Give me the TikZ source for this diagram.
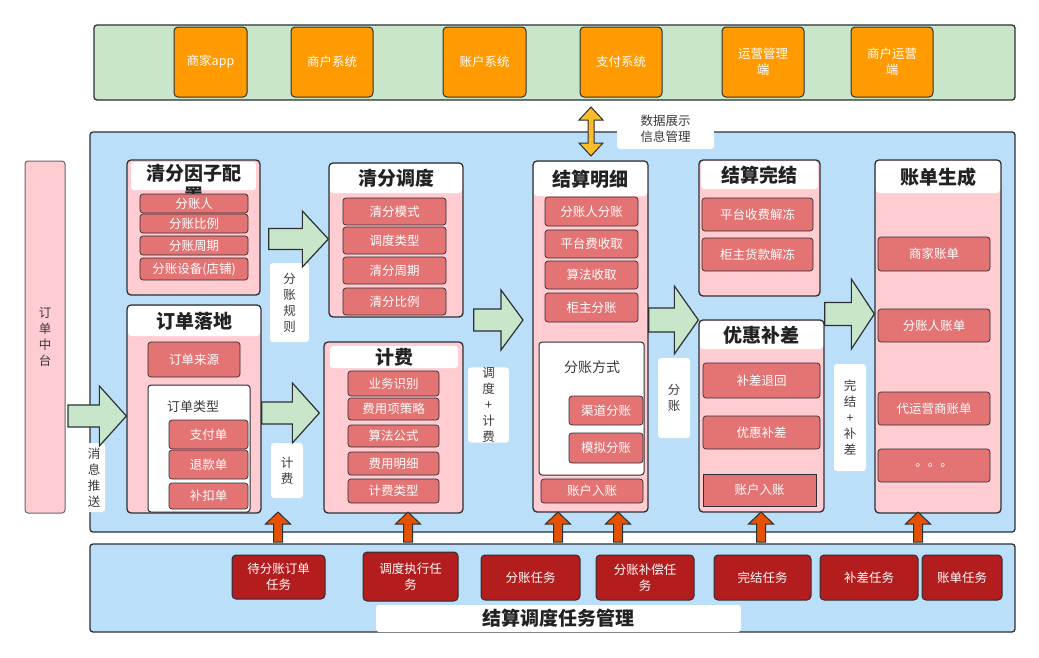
\documentclass[tikz,border=0pt]{standalone}
\usepackage{fontspec}
\setmainfont{Noto Sans CJK SC}
\usetikzlibrary{positioning,calc}

\definecolor{topgreen}{HTML}{C9E6CB}
\definecolor{sysorange}{HTML}{FF9A00}
\definecolor{panelblue}{HTML}{BBDEF9}
\definecolor{blockpink}{HTML}{FFCCD2}
\definecolor{itemred}{HTML}{E47373}
\definecolor{taskred}{HTML}{B41D1D}
\definecolor{arrowgreen}{HTML}{C8E6C9}
\definecolor{uporange}{HTML}{E65100}
\definecolor{dualyellow}{HTML}{FBBC2B}
\definecolor{edge}{HTML}{2B3034}
\definecolor{labelgray}{HTML}{3A3A3A}
\definecolor{titlegray}{HTML}{222222}

\tikzstyle{syspanel} = [draw=edge, line width=1.3pt, fill=topgreen, rounded corners=3pt, inner sep=0pt]
\tikzstyle{mainpanel} = [draw=edge, line width=1.3pt, fill=panelblue, rounded corners=3pt, inner sep=0pt]
\tikzstyle{sysbox} = [draw=edge, line width=1pt, fill=sysorange, rounded corners=4pt, inner sep=0pt, text=white, font=\fontsize{12.5}{16}\selectfont, align=center]
\tikzstyle{block} = [draw=edge, line width=1.3pt, fill=blockpink, rounded corners=4pt, inner sep=0pt]
\tikzstyle{titlebox} = [fill=white, rounded corners=3pt, inner sep=0pt, font=\bfseries\fontsize{19}{22}\selectfont, text=titlegray, align=center]
\tikzstyle{item} = [draw=edge, line width=0.7pt, fill=itemred, rounded corners=3pt, inner sep=0pt, text=white, font=\fontsize{12.5}{15}\selectfont]
\tikzstyle{subbox} = [draw=edge, line width=1pt, fill=white, rounded corners=3pt, inner sep=0pt]
\tikzstyle{tag} = [fill=white, rounded corners=3pt, inner sep=0pt, text=labelgray, font=\fontsize{12.5}{16}\selectfont, align=center]
\tikzstyle{task} = [draw=edge, line width=1pt, fill=taskred, rounded corners=4pt, inner sep=0pt, text=white, font=\fontsize{12.5}{16}\selectfont, align=center]
\tikzstyle{bigarrow} = [draw=edge, line width=1.2pt, fill=arrowgreen]
\tikzstyle{taskarrow} = [draw=edge, line width=1pt, fill=uporange]
\tikzstyle{dataarrow} = [draw=edge, line width=1pt, fill=dualyellow]

% fat arrow to the right: from, to, shaft half, head half, head length
\newcommand{\greenarrow}[5]{%
  \draw[bigarrow] let \p1=#1, \p2=#2 in
    (\x1,\y1+#3) -- (\x2-#5,\y1+#3) -- (\x2-#5,\y1+#4) -- (\x2,\y1)
    -- (\x2-#5,\y1-#4) -- (\x2-#5,\y1-#3) -- (\x1,\y1-#3) -- cycle;}
% small arrow pointing up: base, tip
\newcommand{\taskup}[2]{%
  \draw[taskarrow] let \p1=#1, \p2=#2 in
    (\x1-4.5pt,\y1) -- (\x1-4.5pt,\y2-12pt) -- (\x1-12.5pt,\y2-12pt) -- (\x2,\y2)
    -- (\x1+12.5pt,\y2-12pt) -- (\x1+4.5pt,\y2-12pt) -- (\x1+4.5pt,\y1) -- cycle;}

\begin{document}
\begin{tikzpicture}[x=1pt,y=-1pt]
\useasboundingbox (0,0) rectangle (1039,657);

% Top systems
\node (systems) [syspanel, minimum width=921, minimum height=75] at (554.5,62.5) {};
\node (app) [sysbox, minimum width=73, minimum height=70] at (210.5,62) {商家app};
\node (shxt) [sysbox, minimum width=82, minimum height=70] at (332,62) {商户系统};
\node (zhxt) [sysbox, minimum width=83, minimum height=70] at (484.5,62) {账户系统};
\node (zfxt) [sysbox, minimum width=82, minimum height=70] at (621,62) {支付系统};
\node (yygl) [sysbox, minimum width=82, minimum height=70] at (763,62) {运营管理\\端};
\node (shyy) [sysbox, minimum width=82, minimum height=70] at (892,62) {商户运营\\端};

% Panels
\node (main) [mainpanel, minimum width=925, minimum height=400] at (552.5,332) {};
\node (tasks) [mainpanel, minimum width=925, minimum height=88] at (552.5,588) {};
\node (ddzt) [draw=gray!80!black, line width=1pt, fill=blockpink, rounded corners=3pt, inner sep=0pt,
  minimum width=40, minimum height=352, text=labelgray, font=\fontsize{12.5}{16}\selectfont, align=center]
  at (45,337) {订\\单\\中\\台};

% Data arrow
\node (sjzs) [tag, minimum width=97, minimum height=41] at (665.5,128.5) {数据展示\\信息管理};
\coordinate (dtop) at (591,107);
\coordinate (dbot) at (591,156);
\draw[dataarrow] let \p1=(dtop), \p2=(dbot) in
  (\x1,\y1) -- (\x1+12pt,\y1-13pt) -- (\x1+3pt,\y1-13pt) -- (\x1+3pt,\y2+13pt) -- (\x1+12pt,\y2+13pt)
  -- (\x2,\y2) -- (\x1-12pt,\y2+13pt) -- (\x1-3pt,\y2+13pt) -- (\x1-3pt,\y1-13pt) -- (\x1-12pt,\y1-13pt) -- cycle;

% 清分因子配置
\node (qfyz) [block, minimum width=133, minimum height=135] at (193.5,227.5) {};
\node (qfyzt) [titlebox, minimum width=125, minimum height=28] at (193.5,176) {};
\node (qfyztext) [titlebox, fill=none, anchor=north] at (193.5,164) {清分因子配\\置};
\node (fzr) [item, minimum width=108, minimum height=19] at (194,203.5) {分账人};
\node (fzbl) [item, minimum width=108, minimum height=19] at (194,223.5) {分账比例};
\node (fzzq) [item, minimum width=108, minimum height=19] at (194,245.5) {分账周期};
\node (fzsb) [item, minimum width=108, minimum height=22] at (194,269) {分账设备(店铺)};

% 订单落地
\node (ddld) [block, minimum width=134, minimum height=208] at (194,409) {};
\node (ddldt) [titlebox, minimum width=132, minimum height=30] at (194,321) {订单落地};
\node (ddly) [item, minimum width=92, minimum height=35] at (194,359.5) {订单来源};
\node (ddlx) [subbox, minimum width=102, minimum height=127] at (199,448.5) {};
\node (ddlxt) [text=labelgray, font=\fontsize{13}{16}\selectfont] at (193,407) {订单类型};
\node (zfd) [item, minimum width=79, minimum height=29] at (208.5,434.5) {支付单};
\node (tkd) [item, minimum width=79, minimum height=29] at (208.5,464.5) {退款单};
\node (bkd) [item, minimum width=79, minimum height=26] at (208.5,496) {补扣单};

% 清分调度
\node (qfdd) [block, minimum width=134, minimum height=154] at (396,240) {};
\node (qfddt) [titlebox, minimum width=132, minimum height=29] at (396,178.5) {清分调度};
\node (qfms) [item, minimum width=103, minimum height=27] at (394.5,211.5) {清分模式};
\node (ddlx2) [item, minimum width=103, minimum height=27] at (394.5,240.5) {调度类型};
\node (qfzq) [item, minimum width=103, minimum height=27] at (394.5,270.5) {清分周期};
\node (qfbl) [item, minimum width=103, minimum height=27] at (394.5,301.5) {清分比例};

% 计费
\node (jf) [block, minimum width=139, minimum height=171] at (393.5,427.5) {};
\node (jft) [titlebox, minimum width=128, minimum height=22] at (394,357) {计费};
\node (ywsb) [item, minimum width=91, minimum height=25] at (393.5,383.5) {业务识别};
\node (fycl) [item, minimum width=91, minimum height=22] at (393.5,409) {费用项策略};
\node (sfgs) [item, minimum width=91, minimum height=22] at (393.5,436) {算法公式};
\node (fymx) [item, minimum width=91, minimum height=23] at (393.5,463.5) {费用明细};
\node (jflx) [item, minimum width=91, minimum height=24] at (393.5,491) {计费类型};

% 结算明细
\node (jsmx) [block, minimum width=115, minimum height=351] at (590.5,336.5) {};
\node (jsmxt) [titlebox, minimum width=113, minimum height=34] at (590.5,179) {结算明细};
\node (fzrfz) [item, minimum width=93, minimum height=29] at (591.5,211.5) {分账人分账};
\node (ptfsq) [item, minimum width=93, minimum height=28] at (591.5,244) {平台费收取};
\node (sfsq) [item, minimum width=93, minimum height=28] at (591.5,275) {算法收取};
\node (gzfz) [item, minimum width=93, minimum height=29] at (591.5,307.5) {柜主分账};
\node (fzfs) [subbox, minimum width=105, minimum height=133] at (591.5,408.5) {};
\node (fzfst) [text=labelgray, font=\fontsize{14}{17}\selectfont] at (592,367) {分账方式};
\node (qdfz) [item, minimum width=74, minimum height=29] at (606,410.5) {渠道分账};
\node (mnfz) [item, minimum width=74, minimum height=30] at (606,448) {模拟分账};
\node (zhrz) [item, minimum width=102, minimum height=24] at (592,491) {账户入账};

% 结算完结
\node (jswj) [block, minimum width=121, minimum height=136] at (759.5,228) {};
\node (jswjt) [titlebox, minimum width=117, minimum height=28] at (759.5,175) {结算完结};
\node (ptjd) [item, minimum width=111, minimum height=33] at (757.5,214.5) {平台收费解冻};
\node (gzjd) [item, minimum width=111, minimum height=33] at (757.5,254.5) {柜主货款解冻};

% 优惠补差
\node (yhbc) [block, minimum width=125, minimum height=192] at (761.5,416) {};
\node (yhbct) [titlebox, minimum width=123, minimum height=28] at (761.5,335) {优惠补差};
\node (bcth) [item, minimum width=117, minimum height=35] at (761.5,380.5) {补差退回};
\node (yhbc2) [item, minimum width=117, minimum height=33] at (761.5,432.5) {优惠补差};
\node (zhrz2) [item, rounded corners=0pt, minimum width=113, minimum height=32] at (759.5,490) {账户入账};

% 账单生成
\node (zdsc) [block, minimum width=126, minimum height=353] at (938,336.5) {};
\node (zdsct) [titlebox, minimum width=124, minimum height=32] at (938,177) {账单生成};
\node (sjzd) [item, minimum width=112, minimum height=34] at (934,254) {商家账单};
\node (fzrzd) [item, minimum width=112, minimum height=33] at (934,325.5) {分账人账单};
\node (dyyzd) [item, minimum width=112, minimum height=33] at (934,408.5) {代运营商账单};
\node (more) [item, minimum width=112, minimum height=33] at (934,465.5) {。。。};

% Arrow labels
\node (fzgz) [tag, minimum width=39, minimum height=79] at (289.5,302.5) {分\\账\\规\\则};
\node (xxts) [tag, minimum width=22, minimum height=69] at (94,477.5) {消\\息\\推\\送};
\node (jfl) [tag, minimum width=32, minimum height=55] at (287,470.5) {计\\费};
\node (ddjf) [tag, minimum width=41, minimum height=74] at (488.5,405) {调\\度\\+\\计\\费};
\node (fzl) [tag, minimum width=32, minimum height=80] at (674,398) {分\\账};
\node (wjbc) [tag, minimum width=32, minimum height=107] at (850,417.5) {完\\结\\+\\补\\差};

% Arrows
\greenarrow{($(qfyz.east |- 0,239)+(8,0)$)}{(qfdd.west |- 0,239)}{10.5pt}{28pt}{26pt}
\greenarrow{(68,416)}{(ddld.west |- 0,416)}{11pt}{30pt}{27pt}
\greenarrow{(ddld.east |- 0,413)}{($(jf.west |- 0,413)+(-4,0)$)}{11pt}{30pt}{27pt}
\greenarrow{($(qfdd.east |- 0,320)+(10,0)$)}{(523,320)}{11pt}{30pt}{22pt}
\greenarrow{(jsmx.east |- 0,320)}{(yhbc.west |- 0,320)}{12pt}{34pt}{24pt}
\greenarrow{(yhbc.east |- 0,314)}{(zdsc.west |- 0,314)}{11.5pt}{35pt}{23pt}

% Tasks
\node (dfzdd) [task, minimum width=93, minimum height=44] at (278.5,577) {待分账订单\\任务};
\node (ddzx) [task, minimum width=95, minimum height=49] at (410.5,576.5) {调度执行任\\务};
\node (fzrw) [task, minimum width=99, minimum height=45] at (530.5,577.5) {分账任务};
\node (fzbc) [task, minimum width=98, minimum height=45] at (645,577.5) {分账补偿任\\务};
\node (wjrw) [task, minimum width=97, minimum height=45] at (762.5,577.5) {完结任务};
\node (bcrw) [task, minimum width=98, minimum height=45] at (869,577.5) {补差任务};
\node (zdrw) [task, minimum width=80, minimum height=45] at (962,577.5) {账单任务};
\node (rwgl) [titlebox, minimum width=365, minimum height=27] at (558.5,618.5) {结算调度任务管理};

% Task arrows
\foreach \px in {278,408,558,618,761,918}
  \taskup{(\px,542)}{(\px,512)};

\end{tikzpicture}
\end{document}
